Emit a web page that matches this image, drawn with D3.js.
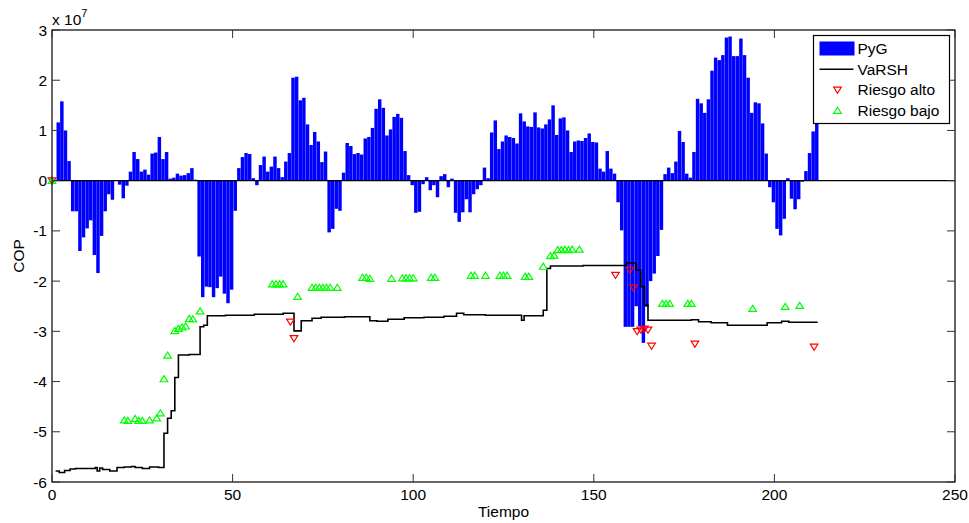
<!DOCTYPE html>
<html>
<head>
<meta charset="utf-8">
<script src="https://cdn.jsdelivr.net/npm/d3@7"></script>
<style>
    body { margin: 0; background: #fff; }
    svg { display: block; font-family: 'Liberation Sans', Arial, sans-serif; }
</style>
</head>
<body>
<svg id="chart" width="969" height="523"></svg>
<script>
// PyG por periodo, en unidades de 1e7 COP (una barra por periodo, t = 1..211)
var pyg = [
    1.16, 1.58, 1.00, 0.39, -0.61, -0.61, -1.40, -1.13, -0.95, -0.79,
    -1.48, -1.84, -1.10, -0.61, -0.27, -0.38, 0.00, -0.08, -0.35, -0.10,
    0.18, 0.57, 0.43, 0.18, 0.22, 0.12, 0.54, 0.56, 0.87, 0.43,
    0.57, 0.04, 0.06, 0.14, 0.10, 0.11, 0.15, 0.25, 0.02, -1.51,
    -2.32, -2.11, -2.12, -2.32, -2.14, -1.91, -2.25, -2.44, -2.17, -0.60,
    0.25, 0.47, 0.55, 0.53, 0.05, -0.09, 0.31, 0.48, 0.18, 0.28,
    0.48, 0.25, 0.07, 0.38, 0.55, 2.05, 2.07, 1.60, 1.65, 1.12,
    0.71, 0.97, 0.78, 0.37, 0.58, -1.03,
    -0.96, -0.56, -0.60, 0.16, 0.75, 0.69, 0.53, 0.55, 0.52, 0.84,
    0.87, 1.05, 1.43, 1.62, 1.45, 0.90, 1.02, 1.27, 1.33, 1.25,
    0.59, 0.11, -0.09, -0.64, -0.62, -0.07, 0.07, -0.19, -0.09, -0.33,
    0.09, 0.13, -0.13, 0.04, -0.64, -0.82, -0.63, -0.37, -0.63, -0.27,
    -0.17, -0.09, 0.26, 0.05, 0.96, 1.20, 0.63, 0.78, 0.90, 0.87,
    0.85, 0.74, 1.34, 1.18, 1.08, 1.07, 1.36, 1.06, 1.04, 1.12,
    1.22, 1.50, 0.91, 1.24, 1.26, 1.00, 0.57, 0.78, 0.80, 0.79,
    0.85, 0.94, 0.77, 0.76, 0.24, 0.18, 0.59, 0.24, 0.14, -0.43,
    -0.99,
    -2.91, -2.91, -2.91, -2.50, -2.90, -3.23, -2.51, -2.00, -1.85, -1.50, -0.98,
    0.13, 0.26, 0.15, 0.38, 0.99, 0.77, 0.14, 0.06, 0.57, 1.63,
    1.54, 1.35, 1.62, 2.19, 2.45, 2.40, 2.50, 2.85, 2.87, 2.48,
    2.48, 2.83, 2.50, 2.05, 1.35, 1.56, 1.54, 1.14, 0.54, -0.13,
    -0.43, -0.96, -1.09, -0.76, 0.05, -0.36, -0.57, -0.37, -0.02, 0.19,
    0.55, 0.98, 1.15
];

// VaRSH (escalera): instante del cambio y nuevo valor
var varshT = [1, 2, 3.5, 5, 6.5, 12, 12.5, 13.2, 14, 16, 18, 20, 22, 23, 25, 27, 29.5,
    31, 32, 33, 34, 35, 38, 41, 42, 43, 48, 56, 64, 67, 69, 72, 74.5, 81, 88, 90, 93,
    97.5, 103, 108.5, 112, 114, 120, 130, 130.7, 136, 137, 138, 147, 159, 161.7, 163,
    164, 165, 177, 179, 182.5, 187, 198, 202, 204, 212];
var varshV = [-5.78, -5.81, -5.77, -5.74, -5.73, -5.71, -5.78, -5.72, -5.75, -5.78, -5.71,
    -5.70, -5.69, -5.71, -5.73, -5.70, -5.71,
    -5.03, -4.73, -4.58, -3.92, -3.47, -3.46, -2.91, -2.88, -2.69, -2.68, -2.66, -2.64,
    -2.99, -2.79, -2.74, -2.72, -2.71, -2.79, -2.80, -2.76, -2.73, -2.72, -2.70, -2.64,
    -2.67, -2.68, -2.78, -2.69, -2.58, -1.75, -1.70, -1.69, -1.64, -1.78, -2.11, -2.48,
    -2.78, -2.77, -2.81, -2.83, -2.88, -2.83, -2.80, -2.82, -2.82];

// Riesgo alto
var altoT = [0, 66, 67, 156, 160, 161, 162, 163, 164, 165, 166, 178, 211];
var altoV = [0, -2.81, -3.14, -1.88, -1.78, -2.13, -3.00, -2.97, -2.95, -2.97, -3.29, -3.25, -3.31];

// Riesgo bajo
var bajoT = [0, 20, 21, 23, 24, 25, 27, 29, 30, 31, 32, 34, 35, 36, 37, 38, 39, 41,
    61, 62, 63, 64, 68, 72, 73, 74, 75, 76, 77, 79, 86, 87, 88, 94, 97, 98, 99, 100,
    105, 106, 116, 117, 120, 124, 125, 126, 131, 132, 136, 138, 139, 140, 141, 142,
    143, 144, 146, 169, 170, 171, 176, 177, 194, 203, 207];
var bajoV = [0, -4.77, -4.78, -4.74, -4.78, -4.78, -4.77, -4.73, -4.63, -3.95, -3.48,
    -2.99, -2.95, -2.92, -2.90, -2.75, -2.76, -2.60,
    -2.06, -2.06, -2.06, -2.06, -2.31, -2.13, -2.13, -2.13, -2.13, -2.13, -2.13, -2.13,
    -1.93, -1.93, -1.95, -1.95, -1.94, -1.94, -1.94, -1.94, -1.93, -1.93,
    -1.89, -1.89, -1.89, -1.89, -1.89, -1.89, -1.91, -1.91, -1.71, -1.50, -1.49,
    -1.38, -1.38, -1.37, -1.38, -1.37, -1.37, -2.45, -2.45, -2.45, -2.45, -2.45,
    -2.55, -2.51, -2.49];

var xTicks = [0, 50, 100, 150, 200, 250];
var yTicks = [-6, -5, -4, -3, -2, -1, 0, 1, 2, 3];
var legendNames = ['PyG', 'VaRSH', 'Riesgo alto', 'Riesgo bajo'];

(function () {
    'use strict';

    var svg = d3.select('#chart');
    var mLeft = 52, mRight = 955, mTop = 30, mBottom = 482;
    var fontSize = 15.5;

    var x = d3.scaleLinear().domain([0, 250]).range([mLeft, mRight]);
    var y = d3.scaleLinear().domain([-6, 3]).range([mBottom, mTop]);

    var triUp = 'M0,-3.4L3.8,2.7L-3.8,2.7Z';
    var triDown = 'M0,3.4L3.8,-2.7L-3.8,-2.7Z';

    // barras PyG (estilo histc: cada barra ocupa un periodo completo)
    var plot = svg.append('g').attr('class', 'plot');
    plot.selectAll('.bar')
        .data(pyg)
        .enter().append('rect')
        .attr('class', 'bar')
        .attr('x', function (d, i) { return x(i + 1.25); })
        .attr('width', function (d, i) { return x(i + 2.25) - x(i + 1.25) - 0.15; })
        .attr('y', function (d) { return y(Math.max(0, d)); })
        .attr('height', function (d) { return Math.abs(y(d) - y(0)); })
        .style('fill', '#0000ff');

    // linea base
    plot.append('line')
        .attr('x1', mLeft).attr('x2', mRight)
        .attr('y1', y(0)).attr('y2', y(0))
        .style('stroke', '#000').style('stroke-width', 1.2);

    // VaRSH
    var varLine = d3.line()
        .x(function (d) { return x(d[0]); })
        .y(function (d) { return y(d[1]); })
        .curve(d3.curveStepAfter);

    plot.append('path')
        .datum(d3.zip(varshT, varshV))
        .attr('d', varLine)
        .style('fill', 'none')
        .style('stroke', '#000')
        .style('stroke-width', 1.6);

    plot.selectAll('.alto')
        .data(d3.zip(altoT, altoV))
        .enter().append('path')
        .attr('class', 'alto')
        .attr('d', triDown)
        .attr('transform', function (d) { return 'translate(' + x(d[0]) + ',' + y(d[1]) + ')'; })
        .style('fill', 'none').style('stroke', '#ff0000').style('stroke-width', 1.2);

    plot.selectAll('.bajo')
        .data(d3.zip(bajoT, bajoV))
        .enter().append('path')
        .attr('class', 'bajo')
        .attr('d', triUp)
        .attr('transform', function (d) { return 'translate(' + x(d[0]) + ',' + y(d[1]) + ')'; })
        .style('fill', 'none').style('stroke', '#00ff00').style('stroke-width', 1.2);

    // ejes: caja con marcas hacia adentro
    var axes = svg.append('g').attr('class', 'axes');
    axes.append('rect')
        .attr('x', mLeft).attr('y', mTop)
        .attr('width', mRight - mLeft).attr('height', mBottom - mTop)
        .style('fill', 'none').style('stroke', '#000').style('stroke-width', 1.2);

    xTicks.forEach(function (t) {
        axes.append('line').attr('x1', x(t)).attr('x2', x(t))
            .attr('y1', mBottom).attr('y2', mBottom - 8)
            .style('stroke', '#333').style('stroke-width', 1);
        axes.append('line').attr('x1', x(t)).attr('x2', x(t))
            .attr('y1', mTop).attr('y2', mTop + 8)
            .style('stroke', '#333').style('stroke-width', 1);
        axes.append('text')
            .attr('x', x(t)).attr('y', mBottom + 18)
            .attr('text-anchor', 'middle')
            .style('font-size', fontSize + 'px')
            .text(t);
    });

    yTicks.forEach(function (v) {
        axes.append('line').attr('x1', mLeft).attr('x2', mLeft + 8)
            .attr('y1', y(v)).attr('y2', y(v))
            .style('stroke', '#333').style('stroke-width', 1);
        axes.append('line').attr('x1', mRight).attr('x2', mRight - 8)
            .attr('y1', y(v)).attr('y2', y(v))
            .style('stroke', '#333').style('stroke-width', 1);
        axes.append('text')
            .attr('x', mLeft - 5).attr('y', y(v) + 5.5)
            .attr('text-anchor', 'end')
            .style('font-size', fontSize + 'px')
            .text(v);
    });

    // multiplicador
    var mult = axes.append('text')
        .attr('x', mLeft).attr('y', 25)
        .style('font-size', fontSize + 'px');
    mult.append('tspan').text('x 10');
    mult.append('tspan').attr('dy', -8).style('font-size', '11px').text('7');

    axes.append('text')
        .attr('x', (mLeft + mRight) / 2).attr('y', 517)
        .attr('text-anchor', 'middle')
        .style('font-size', fontSize + 'px')
        .text('Tiempo');

    axes.append('text')
        .attr('transform', 'translate(24,' + ((mTop + mBottom) / 2) + ') rotate(-90)')
        .attr('text-anchor', 'middle')
        .style('font-size', fontSize + 'px')
        .text('COP');

    // leyenda
    var legend = svg.append('g').attr('class', 'legend')
        .attr('transform', 'translate(813.5,35.5)');
    legend.append('rect')
        .attr('width', 136).attr('height', 88)
        .style('fill', '#fff').style('stroke', '#000').style('stroke-width', 1.2);

    var legendItem = legend.selectAll('.item')
        .data(legendNames)
        .enter().append('g')
        .attr('class', 'item')
        .attr('transform', function (d, i) { return 'translate(0,' + (13 + i * 20.7) + ')'; });

    legendItem.append('text')
        .attr('x', 44).attr('y', 5.5)
        .style('font-size', fontSize + 'px')
        .text(function (d) { return d; });

    legendItem.each(function (d, i) {
        var g = d3.select(this);
        if (i == 0) {
            g.append('rect').attr('x', 6).attr('y', -7).attr('width', 35).attr('height', 14)
                .style('fill', '#0000ff');
        } else if (i == 1) {
            g.append('line').attr('x1', 6).attr('x2', 40).attr('y1', 0).attr('y2', 0)
                .style('stroke', '#000').style('stroke-width', 1.6);
        } else {
            g.append('path')
                .attr('d', i == 2 ? triDown : triUp)
                .attr('transform', 'translate(24,0)')
                .style('fill', 'none')
                .style('stroke', i == 2 ? '#ff0000' : '#00ff00')
                .style('stroke-width', 1.2);
        }
    });
})();
</script>
</body>
</html>
